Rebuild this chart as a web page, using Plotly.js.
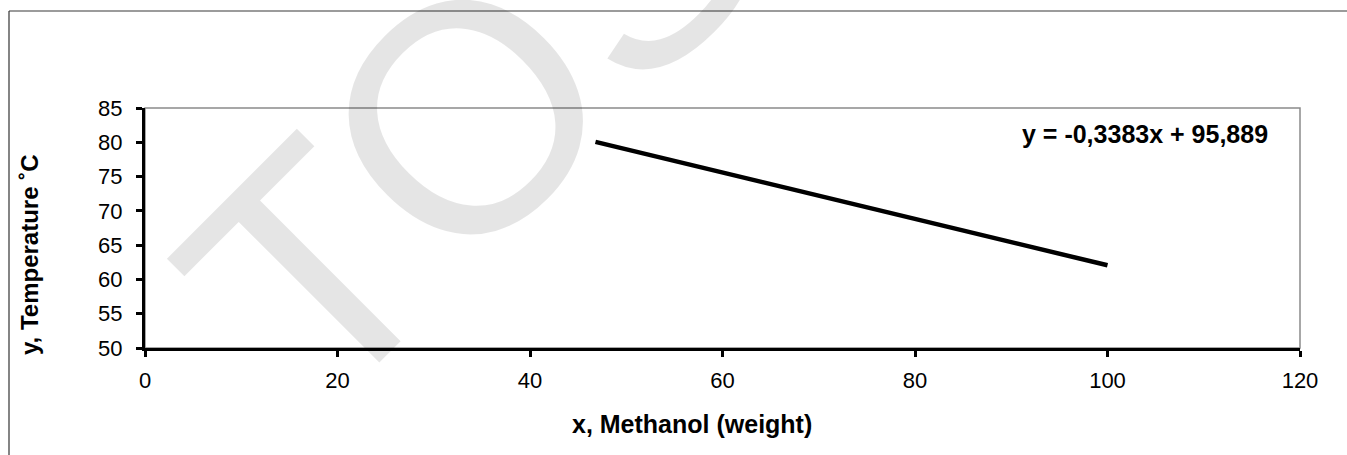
<!DOCTYPE html>
<html>
<head>
<meta charset="utf-8">
<script src="https://cdn.plot.ly/plotly-3.0.1.min.js"></script>
<style>
html,body{margin:0;padding:0;background:#fff;}
#chart{width:1347px;height:455px;}
</style>
</head>
<body>
<div id="chart"></div>
<script>
// Data
const methanolWeight = [46.8, 100];
const temperatureC = [80.06, 62.06];
const xTickValues = [0, 20, 40, 60, 80, 100, 120];
const yTickValues = [50, 55, 60, 65, 70, 75, 80, 85];
const equationText = "y = -0,3383x + 95,889";
const xTitleText = "x, Methanol (weight)";
const yTitleText = "y, Temperature ˚C";
const watermarkText = "TOS";

const W = 1347, H = 455;
const L = 145, R = 47, T = 108, B = 107;
const pw = W - L - R, ph = H - T - B;
const px = v => (v - L) / pw;
const py = v => (H - B - v) / ph;

const trace = {
  x: methanolWeight,
  y: temperatureC,
  type: 'scatter',
  mode: 'lines',
  line: {color: '#000', width: 4.5},
  showlegend: false,
  hoverinfo: 'skip'
};

const layout = {
  width: W, height: H,
  margin: {l: L, r: R, t: T, b: B, pad: 0},
  paper_bgcolor: '#fff',
  plot_bgcolor: '#fff',
  font: {family: 'Liberation Sans, Arial, sans-serif', color: '#000', size: 22},
  showlegend: false,
  xaxis: {
    range: [0, 120],
    tickvals: xTickValues,
    ticktext: xTickValues.map(String),
    ticks: 'outside', ticklen: 6, tickwidth: 3, tickcolor: '#000',
    showline: true, linecolor: '#000', linewidth: 3,
    showgrid: false, zeroline: false,
    tickfont: {size: 22},
    ticklabelstandoff: 5
  },
  yaxis: {
    range: [50, 85],
    tickvals: yTickValues,
    ticktext: yTickValues.map(String),
    ticks: 'outside', ticklen: 6, tickwidth: 3, tickcolor: '#000',
    showline: true, linecolor: '#000', linewidth: 3,
    showgrid: false, zeroline: false,
    tickfont: {size: 22},
    ticklabelstandoff: 9
  },
  shapes: [
    // plot area border (gray, top & right)
    {type: 'rect', xref: 'paper', yref: 'paper', x0: 0, x1: 1, y0: 0, y1: 1,
     line: {color: '#8a8a8a', width: 1.5}, layer: 'below'},
    // outer chart frame
    {type: 'line', xref: 'paper', yref: 'paper', x0: px(9), x1: px(W + 5), y0: py(11), y1: py(11),
     line: {color: '#7a7a7a', width: 1.5}},
    {type: 'line', xref: 'paper', yref: 'paper', x0: px(9), x1: px(9), y0: py(11), y1: py(H + 5),
     line: {color: '#333', width: 1.2}}
  ],
  annotations: [
    {text: '<b>' + xTitleText + '</b>', xref: 'paper', yref: 'paper',
     x: px(692), y: py(424), xanchor: 'center', yanchor: 'middle',
     showarrow: false, font: {size: 25, color: '#000'}},
    {text: '<b>' + yTitleText + '</b>', xref: 'paper', yref: 'paper',
     x: px(29), y: py(255), xanchor: 'center', yanchor: 'middle', textangle: -90,
     showarrow: false, font: {size: 24, color: '#000'}},
    {text: '<b>' + equationText + '</b>', xref: 'paper', yref: 'paper',
     x: px(1145), y: py(134), xanchor: 'center', yanchor: 'middle',
     showarrow: false, font: {size: 25, color: '#000'}},
    {text: watermarkText, xref: 'paper', yref: 'paper',
     x: px(474), y: py(108), xanchor: 'center', yanchor: 'middle',
     showarrow: false, textangle: -45,
     font: {size: 325, color: 'rgba(0,0,0,0.1)', family: 'Liberation Sans, Arial, sans-serif'}}
  ]
};

Plotly.newPlot('chart', [trace], layout, {staticPlot: true, displayModeBar: false});
</script>
</body>
</html>
